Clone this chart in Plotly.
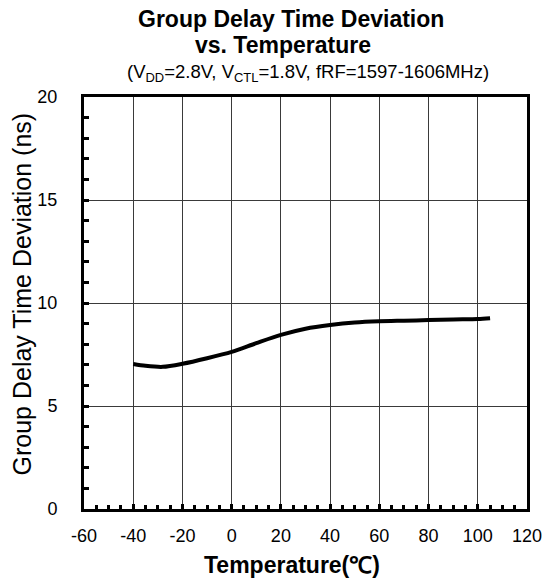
import plotly.graph_objects as go

temperature = [-40, -35, -28, -20, -10, 0, 10, 20, 30, 40, 50, 60, 70, 80, 90, 100, 105]
delay_dev = [7.04, 6.95, 6.90, 7.05, 7.32, 7.63, 8.05, 8.45, 8.75, 8.93, 9.05, 9.11, 9.14, 9.17, 9.20, 9.22, 9.26]

x_ticks = [-60, -40, -20, 0, 20, 40, 60, 80, 100, 120]
y_ticks = [0, 5, 10, 15, 20]

FONT = "Liberation Sans, Arial, sans-serif"

fig = go.Figure()
fig.add_trace(go.Scatter(
    x=temperature, y=delay_dev, mode="lines",
    line=dict(color="black", width=4, shape="spline", smoothing=0.8),
    showlegend=False,
))

axis_common = dict(
    showgrid=True, gridcolor="#3a3a3a", gridwidth=1,
    showline=True, linecolor="black", linewidth=3, mirror=True,
    ticks="inside", ticklen=5, tickwidth=3, tickcolor="black",
    tickfont=dict(family=FONT, size=18, color="black"),
    zeroline=False, automargin=False,
)

fig.update_xaxes(
    range=[-60, 120], tickmode="array", tickvals=x_ticks,
    ticktext=[str(v) for v in x_ticks],
    minor=dict(dtick=5, ticks="inside", ticklen=4, tickwidth=3, tickcolor="black", showgrid=False),
    ticklabelstandoff=8,
    **axis_common,
)
fig.update_yaxes(
    range=[0, 20], tickmode="array", tickvals=y_ticks,
    ticktext=[str(v) for v in y_ticks],
    minor=dict(dtick=1, ticks="inside", ticklen=5, tickwidth=3, tickcolor="black", showgrid=False),
    ticklabelstandoff=20,
    **axis_common,
)

# axis titles
fig.add_annotation(text="<b>Temperature(℃)</b>", xref="paper", yref="paper",
                   x=0.47, y=0.0, yshift=-56, showarrow=False, xanchor="center", yanchor="middle",
                   font=dict(family=FONT, size=23, color="black"))
fig.add_annotation(text="Group Delay Time Deviation (ns)", xref="paper", yref="paper",
                   x=-0.141, y=0.522, textangle=-90, showarrow=False, xanchor="center", yanchor="middle",
                   font=dict(family=FONT, size=25, color="black"))

# titles
fig.add_annotation(text="<b>Group Delay Time Deviation</b>", xref="paper", yref="paper",
                   x=0.467, y=1.0, yshift=78, showarrow=False, xanchor="center", yanchor="middle",
                   borderpad=0, font=dict(family=FONT, size=23, color="black"))
fig.add_annotation(text="<b>vs. Temperature</b>", xref="paper", yref="paper",
                   x=0.449, y=1.0, yshift=52, showarrow=False, xanchor="center", yanchor="middle",
                   borderpad=0, font=dict(family=FONT, size=23, color="black"))
fig.add_annotation(text="(V<sub>DD</sub>=2.8V, V<sub>CTL</sub>=1.8V, fRF=1597-1606MHz)", xref="paper", yref="paper",
                   x=0.506, y=1.0, yshift=24, showarrow=False, xanchor="center", yanchor="middle",
                   font=dict(family=FONT, size=18.5, color="black"))

fig.update_layout(
    width=554, height=585,
    margin=dict(l=84, r=27, t=97, b=76),
    paper_bgcolor="white", plot_bgcolor="white",
    font=dict(family=FONT, color="black"),
)

# remove the default page margin so the figure fills the window exactly
fig.write_html("out.html", config={"displayModeBar": False},
               post_script="document.body.style.margin='0';")
